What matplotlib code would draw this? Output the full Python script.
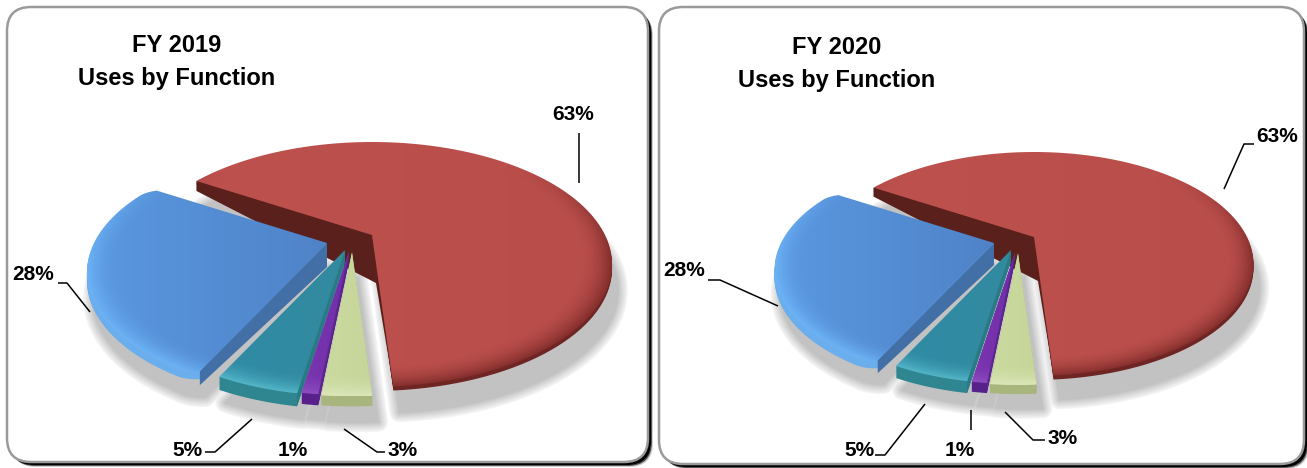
import numpy as np
import matplotlib
matplotlib.use("Agg")
import matplotlib.pyplot as plt
from matplotlib.patches import FancyBboxPatch, Polygon

plt.rcParams["font.family"] = ["Liberation Sans Narrow", "Liberation Sans", "DejaVu Sans"]

functions = ["Red", "Blue", "Teal", "Purple", "Green"]
fy2019_share = [63, 28, 5, 1, 3]
fy2020_share = [63, 28, 5, 1, 3]
share_labels = ["63%", "28%", "5%", "1%", "3%"]

W, H = 1307, 468

# left colour, right colour, bevel colour, rim colour, cut face colour
COLORS = [
    ("#bd514e", "#b84d4a", "#852f2d", "#6e2523", "#5a201b"),
    ("#5a98e0", "#4f83c8", "#6cb2f5", "#6aaeee", "#416fa6"),
    ("#2f8aa6", "#328a9e", "#52b4c6", "#2f8590", "#2a7a85"),
    ("#7b35b0", "#6f2fa8", "#8d4cc0", "#57208a", "#5a2a8c"),
    ("#cbdba0", "#c6d69a", "#dbe6b8", "#a8b57c", "#b4c288"),
]


def project(phi, a, back, front):
    k = (front - back) / (front + back)
    b = front * (1 - k)
    den = 1 - k * np.cos(phi)
    return a * np.sin(phi) / den, b * np.cos(phi) / den


def slice_poly(start, sweep, apex, shape, scale, corner):
    deg = np.linspace(start, start + sweep, 120)
    # the picture's viewpoint turns the back of the pie a little
    warped = deg + 8 * np.sin(np.radians(deg - 4) / 2)
    rad = np.full(deg.shape, scale)
    if corner:
        near = np.clip((start + corner - deg) / corner, 0, 1)
        rad = rad * (1 - 0.03 * near ** 2)
        near = np.clip((deg - (start + sweep - corner)) / corner, 0, 1)
        rad = rad * (1 - 0.03 * near ** 2)
    x, y = project(np.radians(warped), *shape)
    xs = np.r_[apex[0], apex[0] + x * rad]
    ys = np.r_[apex[1], apex[1] + y * rad]
    return np.column_stack([xs, ys])


def fill_top(ax, poly, apex, shape, cols, scale, z):
    # gradient across the slice, bevel near the outer edge
    x0, y0 = poly.min(axis=0)
    x1, y1 = poly.max(axis=0)
    gx, gy = np.meshgrid(np.linspace(x0, x1, 200), np.linspace(y0, y1, 160))
    a, back, front = shape
    k = (front - back) / (front + back)
    b = front * (1 - k)
    dx, dy = (gx - apex[0]) / scale, (gy - apex[1]) / scale
    v = dy / (b + k * dy)
    u = dx * (1 - k * v) / a
    r = np.sqrt(u ** 2 + v ** 2)
    t = ((gx - x0) / max(x1 - x0, 1))[..., None]
    c0 = np.array(matplotlib.colors.to_rgb(cols[0]))
    c1 = np.array(matplotlib.colors.to_rgb(cols[1]))
    c2 = np.array(matplotlib.colors.to_rgb(cols[2]))
    base = c0 * (1 - t) + c1 * t
    w = np.clip((r - 0.88) / 0.12, 0, 1) ** 2 * np.clip(v * 1.2 + 0.8, 0, 1)
    w = w[..., None]
    img = base * (1 - w) + c2 * w
    im = ax.imshow(img, extent=(x0, x1, y1, y0), origin="upper", aspect="auto",
                   zorder=z, interpolation="bilinear")
    clip = Polygon(poly, closed=True, transform=ax.transData, fc="none", ec="none")
    ax.add_patch(clip)
    im.set_clip_path(clip)


def draw_shadow(ax, polys, offset):
    # opaque greys from wide and pale to narrow and dark give a soft edge
    for lw, level in zip(np.linspace(14, 0.5, 12), np.linspace(0.96, 0.76, 12)):
        for poly in polys:
            ax.add_patch(Polygon(poly + offset, closed=True, fc=str(level), ec=str(level),
                                 lw=lw, joinstyle="round", zorder=2))


def draw_pie(ax, shares, panel):
    shape = panel["shape"]
    starts = panel["start"] + np.r_[0, np.cumsum(shares)[:-1]] * 3.6
    polys = []
    for i, share in enumerate(shares):
        polys.append(slice_poly(starts[i], share * 3.6, panel["apexes"][i], shape,
                                panel["scale"][i], panel["corner"][i]))

    draw_shadow(ax, polys, panel["shadow"])

    for i, poly in enumerate(polys):
        z = 3 + i * 3
        cols = COLORS[i]
        depth = panel["rim"][i]
        for d in np.arange(depth, 0, -1):
            ax.add_patch(Polygon(poly + [0, d], closed=True, fc=cols[3], ec="none", zorder=z))
        apex, tip, first = poly[0], poly[-1], poly[1]
        drop_a, drop_t = panel["drop"][i]
        face = [tip, tip + [0, drop_t], apex + [panel["lean"][i], drop_a]]
        if i == 0:
            face.append(first)
        face.append(apex)
        ax.add_patch(Polygon(np.array(face), closed=True, fc=cols[4], ec="none", zorder=z + 1))
        fill_top(ax, poly, apex, shape, cols, panel["scale"][i], z + 2)


def leader(ax, xs, ys):
    ax.plot(xs, ys, color="black", lw=1.1, zorder=40, solid_capstyle="butt")


panels = [
    dict(
        box=(7, 7, 641, 455),
        title_x=177, title_y=(46, 78),
        start=4.0,
        shape=(233, 93, 152),
        apexes=[(372, 235), (327, 243), (345, 250), (349, 251), (352, 252)],
        scale=[1, 1, 0.96, 0.95, 0.95],
        corner=[0, 5, 0, 0, 0],
        rim=[4, 8, 13, 11, 10],
        drop=[(48, 10), (24, 14), (10, 12), (6, 8), (0, 0)],
        lean=[4, 0, 0, 0, 0],
        shadow=(6, 26),
        labels=[(573, 115), (33, 275), (187, 450), (293, 450), (403, 450)],
        leaders=[([579, 579], [133, 183]),
                 ([58, 67, 90], [283, 283, 312]),
                 ([205, 215, 252], [452, 452, 419]),
                 ([344, 377, 385], [429, 452, 452])],
    ),
    dict(
        box=(659, 7, 645, 457),
        title_x=837, title_y=(47, 80),
        start=4.0,
        shape=(213, 85, 139),
        apexes=[(1034, 237), (994, 243), (1011, 250), (1015, 252), (1018, 253)],
        scale=[1, 1, 0.96, 0.95, 0.95],
        corner=[0, 5, 0, 0, 0],
        rim=[4, 8, 12, 10, 9],
        drop=[(44, 9), (22, 13), (9, 11), (6, 8), (0, 0)],
        lean=[4, 0, 0, 0, 0],
        shadow=(6, 24),
        labels=[(1277, 136), (684, 270), (859, 450), (960, 450), (1063, 438)],
        leaders=[([1254, 1244, 1224], [144, 144, 189]),
                 ([708, 720, 778], [280, 280, 306]),
                 ([875, 885, 925], [455, 455, 404]),
                 ([971, 971], [430, 410]),
                 ([1005, 1033, 1045], [412, 440, 440])],
    ),
]

fig = plt.figure(figsize=(W / 100, H / 100), dpi=100, facecolor="white")
ax = fig.add_axes([0, 0, 1, 1])
ax.axis("off")

for panel, shares, year in zip(panels, [fy2019_share, fy2020_share], ["FY 2019", "FY 2020"]):
    x, y, w, h = panel["box"]
    style = "round,pad=0,rounding_size=24"
    for off, col in [(5, "#d0d0d0"), (4, "#555555"), (3, "black")]:
        ax.add_patch(FancyBboxPatch((x + off, y + off), w, h, boxstyle=style,
                                    fc=col, ec="none", zorder=0))
    ax.add_patch(FancyBboxPatch((x, y), w, h, boxstyle=style, fc="white", ec="#9a9a9a",
                                lw=1.8, zorder=1))
    draw_pie(ax, shares, panel)
    ax.text(panel["title_x"], panel["title_y"][0], year, ha="center", va="center",
            fontsize=17, fontweight="bold", zorder=41)
    ax.text(panel["title_x"], panel["title_y"][1], "Uses by Function", ha="center", va="center",
            fontsize=17, fontweight="bold", zorder=41)
    for label, pos in zip(share_labels, panel["labels"]):
        ax.text(pos[0], pos[1], label, ha="center", va="center",
                fontsize=15, fontweight="bold", zorder=41)
    for xs, ys in panel["leaders"]:
        leader(ax, xs, ys)

ax.set_xlim(0, W)
ax.set_ylim(H, 0)
ax.set_aspect("auto")
fig.savefig("out.png", dpi=100)
